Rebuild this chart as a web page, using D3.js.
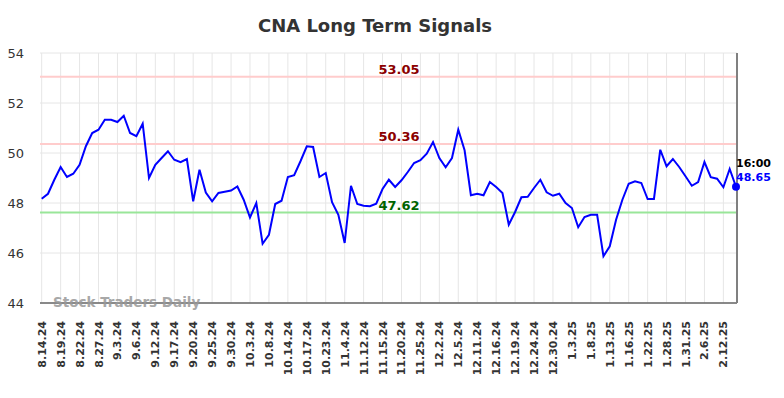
<!DOCTYPE html>
<html>
<head>
<meta charset="utf-8">
<script src="https://cdn.jsdelivr.net/npm/d3@7"></script>
<style>
  body { margin: 0; background: #fff; }
  svg { display: block; font-family: "DejaVu Sans", sans-serif; }
</style>
</head>
<body>
<svg id="chart" width="784" height="398"></svg>
<script>
// closing values, one per trading session
var values = [
  48.17, 48.37, 48.93, 49.44, 49.04, 49.17, 49.53, 50.27, 50.80, 50.93,
  51.33, 51.33, 51.24, 51.49, 50.80, 50.67, 51.17, 49.00, 49.53, 49.80,
  50.07, 49.73, 49.63, 49.76, 48.07, 49.33, 48.42, 48.07, 48.40, 48.45,
  48.50, 48.66, 48.13, 47.42, 48.00, 46.37, 46.73, 47.96, 48.09, 49.04,
  49.11, 49.67, 50.27, 50.24, 49.04, 49.20, 48.03, 47.53, 46.40, 48.69,
  47.96, 47.89, 47.87, 47.97, 48.56, 48.93, 48.64, 48.91, 49.24, 49.60,
  49.71, 49.97, 50.44, 49.80, 49.43, 49.80, 50.93, 50.11, 48.31, 48.37,
  48.31, 48.84, 48.64, 48.40, 47.13, 47.64, 48.23, 48.25, 48.60, 48.93,
  48.43, 48.29, 48.37, 48.00, 47.80, 47.03, 47.44, 47.53, 47.53, 45.87,
  46.27, 47.33, 48.13, 48.77, 48.87, 48.80, 48.16, 48.16, 50.13, 49.47,
  49.76, 49.44, 49.07, 48.69, 48.84, 49.64, 49.03, 48.97, 48.63, 49.36,
  48.65
];

// date labels, shown every third session
var tickLabels = [
  "8.14.24", "8.19.24", "8.22.24", "8.27.24", "9.3.24", "9.6.24", "9.12.24",
  "9.17.24", "9.20.24", "9.25.24", "9.30.24", "10.3.24", "10.8.24", "10.14.24",
  "10.17.24", "10.23.24", "11.4.24", "11.12.24", "11.15.24", "11.20.24",
  "11.25.24", "12.2.24", "12.5.24", "12.11.24", "12.16.24", "12.19.24",
  "12.24.24", "12.30.24", "1.3.25", "1.8.25", "1.13.25", "1.16.25", "1.22.25",
  "1.28.25", "1.31.25", "2.6.25", "2.12.25"
];
var tickStep = 3;

var yTicks = [44, 46, 48, 50, 52, 54];

// signal levels
var levels = [53.05, 50.36, 47.62];
var levelKinds = ["resist", "resist", "support"];

var lastTime = "16:00";

var svg = d3.select("#chart");
var plotL = 40, plotR = 737, plotT = 53, plotB = 303;

var x = d3.scaleLinear()
  .domain([0, values.length - 1])
  .range([plotL + 1.7, plotR - 1]);
var y = d3.scaleLinear()
  .domain([44, 54])
  .range([plotB, plotT]);

// title
svg.append("text")
  .attr("x", 375)
  .attr("y", 32)
  .attr("text-anchor", "middle")
  .style("font-size", "18px")
  .style("font-weight", "bold")
  .style("fill", "#333")
  .text("CNA Long Term Signals");

// grid
var tickIdx = tickLabels.map(function(d, i) { return i * tickStep; });
svg.append("g").selectAll("line")
  .data(tickIdx)
  .enter().append("line")
  .attr("x1", function(d) { return x(d); })
  .attr("x2", function(d) { return x(d); })
  .attr("y1", plotT)
  .attr("y2", plotB)
  .attr("stroke", "#e6e6e6")
  .attr("stroke-width", 1);

svg.append("g").selectAll("line")
  .data(yTicks)
  .enter().append("line")
  .attr("x1", plotL)
  .attr("x2", plotR)
  .attr("y1", function(d) { return y(d); })
  .attr("y2", function(d) { return y(d); })
  .attr("stroke", "#e6e6e6")
  .attr("stroke-width", 1);

// y labels
svg.append("g").selectAll("text")
  .data(yTicks)
  .enter().append("text")
  .attr("x", 24)
  .attr("y", function(d) { return y(d); })
  .attr("dy", "0.35em")
  .attr("text-anchor", "end")
  .style("font-size", "13px")
  .style("fill", "#333")
  .text(function(d) { return d; });

// x labels
svg.append("g").selectAll("text")
  .data(tickLabels)
  .enter().append("text")
  .attr("transform", function(d, i) {
    return "translate(" + (x(i * tickStep) + 4) + "," + 321 + ") rotate(-90)";
  })
  .attr("text-anchor", "end")
  .style("font-size", "11px")
  .style("font-weight", "bold")
  .style("fill", "#333")
  .text(function(d) { return d; });

// level lines
svg.append("g").selectAll("line")
  .data(levels)
  .enter().append("line")
  .attr("x1", plotL)
  .attr("x2", plotR)
  .attr("y1", function(d) { return y(d); })
  .attr("y2", function(d) { return y(d); })
  .attr("stroke", function(d, i) { return levelKinds[i] == "support" ? "#99e699" : "#ffcccc"; })
  .attr("stroke-width", 2);

svg.append("g").selectAll("text")
  .data(levels)
  .enter().append("text")
  .attr("x", 399)
  .attr("y", function(d) { return y(d) - 3; })
  .attr("text-anchor", "middle")
  .style("font-size", "13px")
  .style("font-weight", "bold")
  .style("fill", function(d, i) { return levelKinds[i] == "support" ? "#006400" : "#8b0000"; })
  .text(function(d) { return d.toFixed(2); });

// axes frame
svg.append("line")
  .attr("x1", plotL).attr("x2", plotR)
  .attr("y1", plotB).attr("y2", plotB)
  .attr("stroke", "#666").attr("stroke-width", 1.5);
svg.append("line")
  .attr("x1", plotR).attr("x2", plotR)
  .attr("y1", plotT).attr("y2", plotB)
  .attr("stroke", "#808080").attr("stroke-width", 2);

// watermark
svg.append("text")
  .attr("x", 53)
  .attr("y", 307)
  .style("font-size", "13.5px")
  .style("font-weight", "bold")
  .style("fill", "#999")
  .style("opacity", 0.85)
  .text("Stock Traders Daily");

// price line
var line = d3.line()
  .x(function(d, i) { return x(i); })
  .y(function(d) { return y(d); });
svg.append("path")
  .datum(values)
  .attr("d", line)
  .attr("fill", "none")
  .attr("stroke", "#0000ff")
  .attr("stroke-width", 2);

// last point
var lastI = values.length - 1;
var lastV = values[lastI];
svg.append("circle")
  .attr("cx", x(lastI))
  .attr("cy", y(lastV))
  .attr("r", 4)
  .attr("fill", "#0000ff");
svg.append("text")
  .attr("x", x(lastI))
  .attr("y", y(lastV) - 20)
  .style("font-size", "11px")
  .style("font-weight", "bold")
  .style("fill", "#000")
  .text(lastTime);
svg.append("text")
  .attr("x", x(lastI))
  .attr("y", y(lastV) - 6)
  .style("font-size", "11px")
  .style("font-weight", "bold")
  .style("fill", "#0000ff")
  .text(lastV.toFixed(2));
</script>
</body>
</html>
